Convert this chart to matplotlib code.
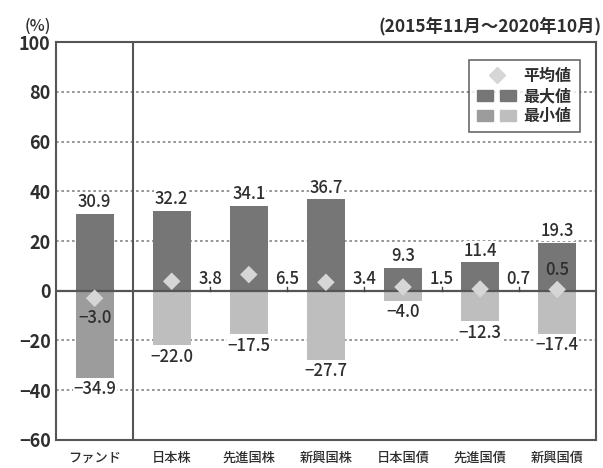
import numpy as np
import matplotlib.pyplot as plt
from matplotlib.lines import Line2D
from matplotlib.patches import Patch
from matplotlib.legend_handler import HandlerTuple

plt.rcParams['font.family'] = ['Noto Sans CJK JP', 'DejaVu Sans']

categories = ['ファンド', '日本株', '先進国株', '新興国株', '日本国債', '先進国債', '新興国債']
max_vals = [30.9, 32.2, 34.1, 36.7, 9.3, 11.4, 19.3]
min_vals = [-34.9, -22.0, -17.5, -27.7, -4.0, -12.3, -17.4]
mean_vals = [-3.0, 3.8, 6.5, 3.4, 1.5, 0.7, 0.5]
yticks = [-60, -40, -20, 0, 20, 40, 60, 80, 100]

dark = '#767676'
mid = '#9c9c9c'
light = '#bebebe'
dia = '#d6d6d6'
edge = '#555555'
txt = '#2e2e2e'

x = np.arange(len(categories))
w = 0.49

fig = plt.figure(figsize=(6.03, 4.68), dpi=100)
ax = fig.add_axes([0.093, 0.060, 0.895, 0.850])

for v in yticks:
    if v not in (0, -60, 100):
        ax.axhline(v, color='#888888', lw=1.2, ls=(0, (1.6, 1.6)), zorder=0)

max_colors = [dark] * len(x)
min_colors = [mid] + [light] * (len(x) - 1)
ax.bar(x, max_vals, width=w, color=max_colors, zorder=2)
ax.bar(x, min_vals, width=w, color=min_colors, zorder=2)
ax.axhline(0, color='#555555', lw=1.6, zorder=3)
ax.scatter(x, mean_vals, marker='D', s=80, color=dia, edgecolors='none', zorder=4)
ax.axvline(0.5, color=edge, lw=1.5, zorder=3)

bb = dict(facecolor='white', edgecolor='none', pad=0.5)
for i in range(len(x)):
    ax.text(x[i], max_vals[i] + 1.0, f'{max_vals[i]:.1f}', ha='center', va='bottom',
            fontsize=12, fontweight='medium', color=txt, bbox=bb, zorder=5)
    ax.text(x[i], min_vals[i] - 1.0, f'\u2212{abs(min_vals[i]):.1f}', ha='center', va='top',
            fontsize=12, fontweight='medium', color=txt, bbox=bb, zorder=5)

# mean labels
ax.text(x[0], mean_vals[0] - 8.0, '\u22123.0', ha='center', va='center', fontsize=12,
        fontweight='medium', color=txt, zorder=5)
for i in range(1, len(x) - 1):
    ax.plot([x[i] + 0.5, x[i] + 0.5], [0, 1.5], color='#444444', lw=1, zorder=5)
    ax.text(x[i] + 0.5, 1.0, f'{mean_vals[i]:.1f}', ha='center', va='bottom', fontsize=12,
            fontweight='medium', color=txt, zorder=5)
ax.text(x[-1], 8.5, f'{mean_vals[-1]:.1f}', ha='center', va='center', fontsize=12,
        fontweight='medium', color=txt, zorder=5)

ax.set_xlim(-0.5, 6.5)
ax.set_ylim(-60, 100)
ax.set_yticks(yticks)
ax.set_yticklabels([str(v).replace('-', '\u2212') for v in yticks], fontsize=13,
                   fontweight='bold', color=txt)
ax.set_xticks(x)
ax.set_xticklabels(categories, fontsize=9.5, fontweight='medium', color=txt)
ax.tick_params(length=0, pad=4)
ax.tick_params(axis='x', pad=8)
for s in ax.spines.values():
    s.set_color(edge)
    s.set_linewidth(1.5)

handles = [Line2D([], [], marker='D', ls='none', color=dia, markersize=8),
           (Patch(color=dark), Patch(color=dark)),
           (Patch(color=mid), Patch(color=light))]
leg = ax.legend(handles, ['平均値', '最大値', '最小値'],
                handler_map={tuple: HandlerTuple(ndivide=None, pad=0.4)},
                loc='upper right', bbox_to_anchor=(0.985, 0.975), fontsize=11.5,
                frameon=True, fancybox=False, handlelength=2.4, handletextpad=0.5,
                borderpad=0.5, labelspacing=0.25)
leg.get_frame().set_edgecolor('#444444')
leg.get_frame().set_linewidth(1.2)
for t in leg.get_texts():
    t.set_fontweight('bold')
    t.set_color(txt)

fig.text(0.062, 0.925, '(%)', fontsize=11.5, fontweight='medium', color=txt,
         ha='center', va='bottom')
fig.text(0.997, 0.922, '(2015年11月～2020年10月)', fontsize=12.5, fontweight='bold',
         color=txt, ha='right', va='bottom')

fig.savefig('out.png')
